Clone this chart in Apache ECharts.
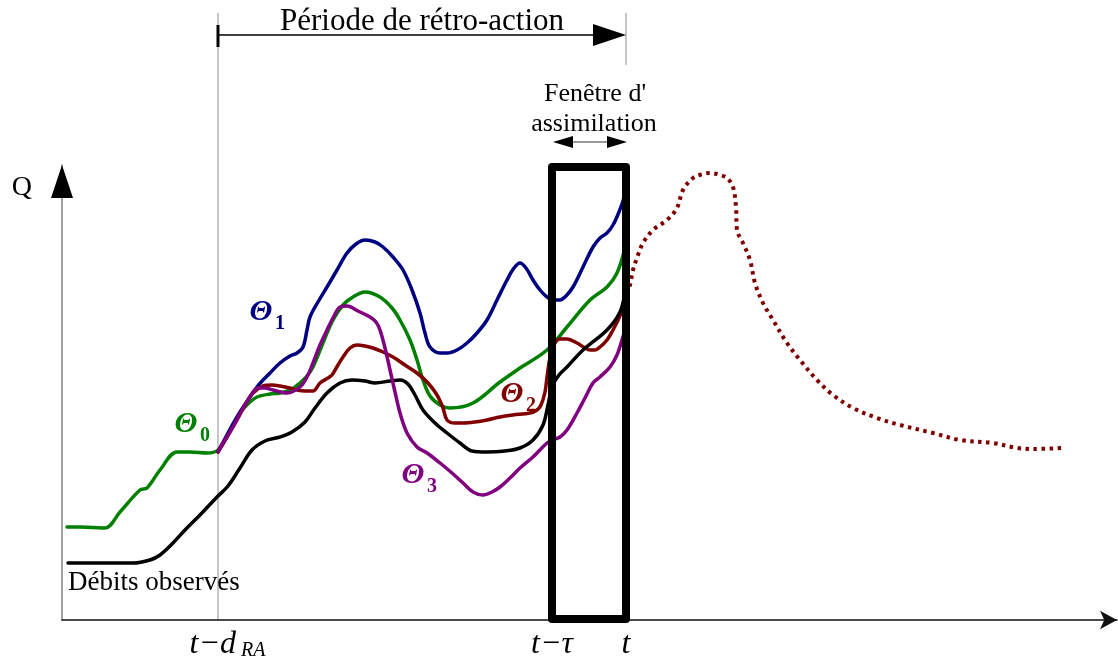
<!DOCTYPE html>
<html><head><meta charset="utf-8">
<script src="https://cdn.jsdelivr.net/npm/echarts@6/dist/echarts.min.js"></script>
<style>html,body{margin:0;padding:0;background:#fff}#c{width:1118px;height:664px}</style>
</head><body><div id="c"></div>
<script>
// ---- data (time units on x, discharge units on y) ----
const observed = [[6,57],[40,57],[71,57],[88,60],[98,65],[111,77],[123,90],[138,105],[155,123],[166,134],[178,152],[190,170],[203,179],[218,183],[230,188],[243,198],[253,212],[265,227],[278,237],[290,240],[303,239],[313,237],[328,239],[338,240],[346,236],[353,225],[361,210],[373,197],[385,187],[398,177],[410,169],[425,168],[443,169],[458,172],[471,180],[481,195],[486,215],[490,233],[497,245],[505,253],[521,270],[545,290],[558,308],[563,328]];
const theta0 = [[5,93],[18,93],[43,92],[58,108],[78,130],[85,132],[98,150],[115,168],[128,168],[145,167],[156,170],[166,185],[178,207],[188,218],[195,223],[208,226],[218,227],[230,231],[238,237],[245,244],[251,253],[261,277],[271,300],[281,315],[291,323],[303,328],[318,323],[330,312],[338,300],[348,280],[355,260],[361,240],[368,224],[378,215],[388,212],[411,217],[438,238],[458,252],[485,270],[505,293],[528,320],[545,333],[555,347],[563,372]];
const theta1 = [[156,168],[166,187],[178,208],[195,233],[208,247],[218,257],[228,264],[235,267],[241,273],[245,290],[248,303],[256,318],[265,333],[275,350],[285,367],[294,376],[303,380],[313,378],[321,373],[331,363],[341,350],[350,330],[358,307],[363,287],[368,273],[378,267],[385,267],[395,270],[405,277],[415,287],[425,300],[435,320],[445,340],[452,352],[458,357],[464,352],[471,340],[478,330],[485,323],[491,320],[498,320],[504,324],[511,333],[521,353],[531,373],[538,382],[545,387],[551,395],[557,408],[563,425]];
const theta2 = [[156,168],[165,183],[175,200],[183,215],[191,227],[201,234],[210,235],[218,234],[228,232],[235,230],[243,229],[251,229],[258,237],[266,242],[270,245],[276,255],[281,263],[288,272],[295,275],[303,274],[311,272],[321,268],[331,263],[343,255],[355,247],[366,237],[375,225],[381,212],[385,200],[393,197],[401,197],[413,198],[425,200],[438,203],[451,205],[468,207],[475,210],[479,215],[483,228],[485,243],[488,262],[493,277],[498,281],[505,281],[515,277],[523,272],[528,270],[533,270],[538,273],[545,280],[551,290],[557,302],[563,318]];
const theta3 = [[156,168],[163,180],[171,193],[180,210],[188,223],[196,232],[203,232],[211,230],[225,227],[238,233],[245,243],[251,257],[258,275],[265,290],[272,304],[278,313],[285,314],[296,309],[308,303],[314,298],[318,290],[323,272],[328,250],[333,228],[338,207],[345,187],[355,173],[365,167],[378,157],[390,147],[401,137],[411,128],[421,125],[430,128],[438,133],[448,142],[458,152],[471,163],[485,177],[491,180],[498,183],[505,190],[515,207],[523,222],[531,237],[538,243],[548,253],[555,265],[560,280],[563,290]];
const forecast = [[563,318],[568,335],[571,350],[576,365],[581,377],[591,390],[605,400],[615,412],[621,430],[631,442],[641,446],[648,447],[658,445],[665,442],[671,433],[674,413],[675,390],[681,377],[688,360],[693,337],[701,317],[711,300],[725,277],[738,260],[755,240],[771,225],[791,212],[815,202],[838,195],[871,187],[898,180],[931,177],[955,172],[971,171],[1000,172]];

const tdRA = 156, tTau = 490, tNow = 564;          // key times
const xTicks = [tdRA, tTau, tNow];
const xTickLabels = ['{ip|t−d}{s| RA}', '{i|t−τ}', '{i|t}'];
const windowTop = 453, windowBottom = 1;
const thetaNames = ['Θ', 'Θ', 'Θ', 'Θ'];
const thetaSubs = ['0', '1', '2', '3'];
const thetaLabelAt = [[124,196],[199,308],[450,226],[351,145]];
const observedLabelAt = [6, 37];
const xMax = 1055, yMax = 455;

const SERIF = '"Liberation Serif","Times New Roman",serif';
const colors = {obs:'#000000', t0:'#008000', t1:'#000080', t2:'#800000', t3:'#800080'};
const thetaColors = [colors.t0, colors.t1, colors.t2, colors.t3];

const chart = echarts.init(document.getElementById('c'), null, {renderer:'canvas'});

function curve(name, data, color, z){
  return {type:'line', name, data, smooth:0.35, symbol:'none', showSymbol:false,
    lineStyle:{color, width:3.5, cap:'round', join:'round'}, z, animation:false, silent:true};
}

chart.setOption({
  animation:false,
  backgroundColor:'#fff',
  grid:{left:62, top:165, width:xMax, height:yMax, containLabel:false},
  xAxis:{type:'value', min:0, max:xMax,
    axisLine:{show:true, onZero:false, lineStyle:{color:'#111', width:1.5}, symbol:['none','arrow'], symbolSize:[14,17]},
    axisTick:{show:false}, splitLine:{show:false},
    axisLabel:{show:true, customValues:xTicks, margin:9,
      formatter:function(v){ for (let i=0;i<xTicks.length;i++){ if (Math.abs(xTicks[i]-v)<0.5) return xTickLabels[i]; } return ''; },
      rich:{
        i:{fontFamily:SERIF, fontStyle:'italic', fontSize:32, lineHeight:32, color:'#000', verticalAlign:'bottom'},
        ip:{fontFamily:SERIF, fontStyle:'italic', fontSize:32, lineHeight:32, color:'#000', verticalAlign:'bottom', padding:[0,0,0,19]},
        s:{fontFamily:SERIF, fontStyle:'italic', fontSize:20, lineHeight:12, color:'#000', verticalAlign:'bottom'}
      }}
  },
  yAxis:{type:'value', min:0, max:yMax,
    axisLine:{show:true, onZero:false, lineStyle:{color:'#808080', width:1.5}},
    axisTick:{show:false}, splitLine:{show:false}, axisLabel:{show:false},
    name:'Q', nameLocation:'end', nameGap:-23,
    nameTextStyle:{fontFamily:SERIF, fontSize:28, color:'#000', align:'right', verticalAlign:'middle', padding:[0,30,0,0]}
  },
  series:[
    curve('Θ0', theta0, colors.t0, 3),
    curve('Θ1', theta1, colors.t1, 3),
    curve('Θ2', theta2, colors.t2, 4),
    curve('Débits observés', observed, colors.obs, 5),
    curve('Θ3', theta3, colors.t3, 6),
    {type:'line', name:'prévision', data:forecast, smooth:0.35, symbol:'none', showSymbol:false, z:4,
      lineStyle:{color:colors.t2, width:4, type:[3.5,4.5], cap:'butt'}, animation:false, silent:true},
    {type:'line', name:'fenêtre', data:[[tTau,windowBottom],[tTau,windowTop],[tNow,windowTop],[tNow,windowBottom],[tTau,windowBottom]],
      symbol:'none', showSymbol:false, z:8, clip:false,
      lineStyle:{color:'#000', width:8, join:'round', cap:'round'}, animation:false, silent:true}
  ]
});

function buildGraphic(){
  const P = (x,y)=>chart.convertToPixel({gridIndex:0},[x,y]);
  const xd = P(tdRA,0)[0], xt = P(tNow,0)[0], xw = P(tTau,0)[0];
  const o = P(0,0), top = P(0,yMax);
  const els = [];
  const txt = (x,y,text,font,fill,align)=>({type:'text', x, y, z:20,
    style:{text, font, fill, align:align||'center', textAlign:align||'center', verticalAlign:'middle', textVerticalAlign:'middle'}});
  // guide lines
  els.push({type:'line', z:0, shape:{x1:xd,y1:13,x2:xd,y2:o[1]}, style:{stroke:'#a8a8a8', lineWidth:1.3}});
  els.push({type:'line', z:0, shape:{x1:xt,y1:13,x2:xt,y2:65}, style:{stroke:'#a8a8a8', lineWidth:1.3}});
  // y-axis arrow head
  els.push({type:'polygon', z:20, shape:{points:[[o[0],top[1]],[o[0]-11,top[1]+33],[o[0]+11,top[1]+33]]}, style:{fill:'#000'}});
  // retro-action period arrow
  const ya = 35;
  els.push({type:'line', z:20, shape:{x1:xd,y1:ya,x2:xt-30,y2:ya}, style:{stroke:'#000', lineWidth:1.5}});
  els.push({type:'line', z:20, shape:{x1:xd,y1:ya-10,x2:xd,y2:ya+12}, style:{stroke:'#000', lineWidth:3}});
  els.push({type:'polygon', z:20, shape:{points:[[xt,ya],[xt-33,ya-11],[xt-33,ya+11]]}, style:{fill:'#000'}});
  els.push(txt((xd+xt)/2, 22, 'Période de rétro-action', '31px '+SERIF, '#000'));
  // assimilation window caption + double arrow
  const xm = (xw+xt)/2;
  els.push(txt(xm+6, 94, "Fenêtre d'", '26px '+SERIF, '#000'));
  els.push(txt(xm+5, 124, 'assimilation', '26px '+SERIF, '#000'));
  const yb = 142;
  els.push({type:'line', z:20, shape:{x1:xw+10,y1:yb,x2:xt-10,y2:yb}, style:{stroke:'#333', lineWidth:1.2}});
  els.push({type:'polygon', z:20, shape:{points:[[xw+1,yb],[xw+21,yb-6],[xw+21,yb+6]]}, style:{fill:'#000'}});
  els.push({type:'polygon', z:20, shape:{points:[[xt+1,yb],[xt-19,yb-6],[xt-19,yb+6]]}, style:{fill:'#000'}});
  // theta labels
  for (let i=0;i<thetaLabelAt.length;i++){
    const p = P(thetaLabelAt[i][0], thetaLabelAt[i][1]);
    els.push(txt(p[0], p[1], thetaNames[i], 'italic bold 30px '+SERIF, thetaColors[i]));
    els.push(txt(p[0]+19, p[1]+12, thetaSubs[i], 'bold 20px '+SERIF, thetaColors[i]));
  }
  // observed label
  const po = P(observedLabelAt[0], observedLabelAt[1]);
  els.push(txt(po[0], po[1], 'Débits observés', '27px '+SERIF, '#000', 'left'));
  return els;
}
chart.setOption({graphic:{elements:buildGraphic()}});
</script></body></html>
